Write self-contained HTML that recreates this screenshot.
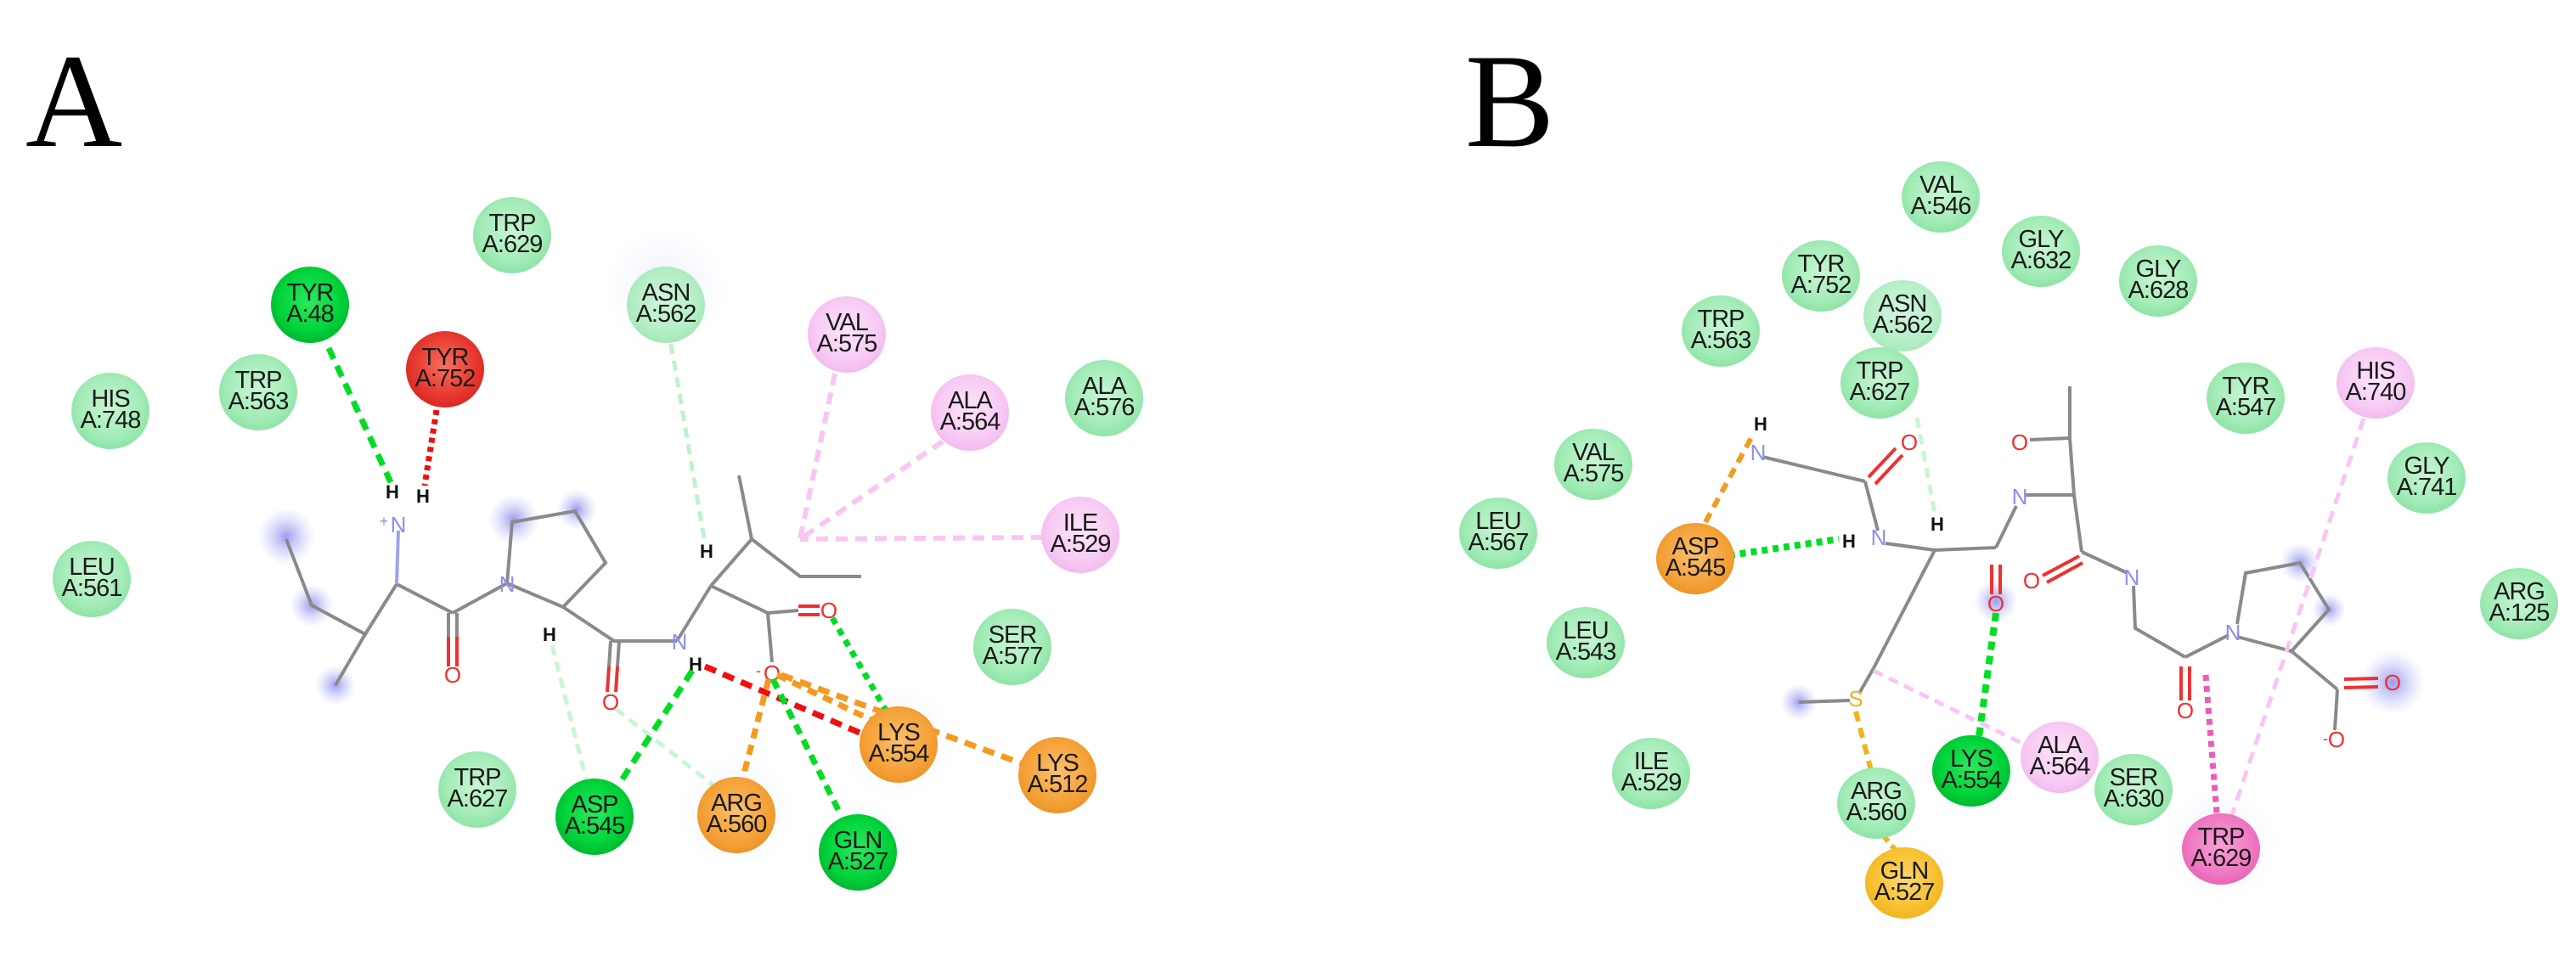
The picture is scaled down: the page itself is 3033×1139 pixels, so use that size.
<!DOCTYPE html>
<html><head><meta charset="utf-8"><style>
html,body{margin:0;padding:0;background:#fff;}
svg{display:block;}
.n text{font-family:"Liberation Sans",sans-serif;font-size:29px;fill:#1a1a1a;text-anchor:middle;letter-spacing:-1px;}
.b{stroke:#8a8a8a;stroke-width:4;fill:none;}
.at{font-family:"Liberation Sans",sans-serif;font-size:26px;text-anchor:middle;}
</style></head><body>
<svg width="3033" height="1139" viewBox="0 0 3033 1139" xmlns="http://www.w3.org/2000/svg">
<defs>
<radialGradient id="lg" cx="50%" cy="45%" r="55%"><stop offset="0" stop-color="#c8f6d4"/><stop offset="0.7" stop-color="#a4ecb8"/><stop offset="1" stop-color="#8ee4a6"/></radialGradient>
<radialGradient id="bg" cx="50%" cy="45%" r="55%"><stop offset="0" stop-color="#2ee860"/><stop offset="0.7" stop-color="#00d43a"/><stop offset="1" stop-color="#00b830"/></radialGradient>
<radialGradient id="og" cx="50%" cy="45%" r="55%"><stop offset="0" stop-color="#fbc070"/><stop offset="0.7" stop-color="#f5a33a"/><stop offset="1" stop-color="#ee9428"/></radialGradient>
<radialGradient id="pg" cx="50%" cy="45%" r="55%"><stop offset="0" stop-color="#fde4fb"/><stop offset="0.7" stop-color="#f8ccf4"/><stop offset="1" stop-color="#f2bbee"/></radialGradient>
<radialGradient id="rg" cx="50%" cy="45%" r="55%"><stop offset="0" stop-color="#f87060"/><stop offset="0.7" stop-color="#e83a30"/><stop offset="1" stop-color="#d82a22"/></radialGradient>
<radialGradient id="mg" cx="50%" cy="45%" r="55%"><stop offset="0" stop-color="#f8a0d8"/><stop offset="0.7" stop-color="#f07ac4"/><stop offset="1" stop-color="#e866b6"/></radialGradient>
<radialGradient id="yg" cx="50%" cy="45%" r="55%"><stop offset="0" stop-color="#fcd870"/><stop offset="0.7" stop-color="#f8c232"/><stop offset="1" stop-color="#f0b420"/></radialGradient>
<radialGradient id="halo"><stop offset="0" stop-color="#e8eefa"/><stop offset="1" stop-color="#f4f7fd" stop-opacity="0"/></radialGradient>
<radialGradient id="blu"><stop offset="0" stop-color="#9a9cf0"/><stop offset="1" stop-color="#c8caf8" stop-opacity="0"/></radialGradient>
</defs>

<text x="30" y="172" font-family="Liberation Serif,serif" font-size="158" fill="#000">A</text>
<text x="1725" y="172" font-family="Liberation Serif,serif" font-size="158" fill="#000">B</text>

<g fill="url(#halo)">
<circle cx="784" cy="340" r="75"/><circle cx="1058" cy="875" r="70"/><circle cx="867" cy="955" r="70"/>
<circle cx="700" cy="962" r="60"/><circle cx="1010" cy="1000" r="60"/><circle cx="365" cy="355" r="60"/>
<circle cx="2240" cy="372" r="60"/><circle cx="1996" cy="655" r="60"/><circle cx="2615" cy="995" r="70"/><circle cx="2242" cy="1040" r="60"/><circle cx="2321" cy="905" r="60"/>
</g>
<g fill="url(#blu)">
<circle cx="337" cy="632" r="34"/><circle cx="367" cy="713" r="26"/><circle cx="395" cy="807" r="24"/><circle cx="605" cy="612" r="30"/><circle cx="679" cy="600" r="24"/>
<circle cx="2118" cy="827" r="22"/><circle cx="2350" cy="708" r="26"/><circle cx="2708" cy="663" r="24"/><circle cx="2742" cy="718" r="20"/><circle cx="2817" cy="804" r="38"/>
</g>

<!-- Panel A molecule -->
<g class="b">
<polyline points="337,635 367,713 430,747 395,807"/>
<polyline points="430,747 467,688 533,722"/>
<line x1="533" y1="722" x2="597" y2="687"/>
<polyline points="597,687 603,615 677,602 713,663 663,715 597,687"/>
<polyline points="663,715 723,755 797,755"/>
<line x1="797" y1="755" x2="837" y2="690"/>
<polyline points="837,690 885,635 870,560"/>
<polyline points="885,635 942,679 1014,679"/>
<line x1="837" y1="690" x2="904" y2="722"/>
<line x1="904" y1="722" x2="940" y2="719"/>
<line x1="904" y1="722" x2="909" y2="780"/>
<line x1="467" y1="688" x2="469" y2="625" stroke="#9ea2f0"/>
<line x1="528" y1="722" x2="528" y2="750"/><line x1="538" y1="722" x2="538" y2="750"/>
<line x1="719" y1="755" x2="717" y2="785"/><line x1="729" y1="755" x2="727" y2="785"/>
</g>
<g stroke="#f03030" stroke-width="4">
<line x1="528" y1="750" x2="528" y2="785"/><line x1="538" y1="750" x2="538" y2="785"/>
<line x1="717" y1="785" x2="715" y2="815"/><line x1="727" y1="785" x2="725" y2="815"/>
<line x1="940" y1="714" x2="965" y2="714"/><line x1="940" y1="724" x2="965" y2="724"/>
</g>
<g class="at">
<text x="469" y="627" fill="#8c90f0">N</text><text x="452" y="620" fill="#8c90f0" font-size="18">+</text>
<text x="462" y="587" fill="#111" font-weight="bold" font-size="22">H</text>
<text x="498" y="592" fill="#111" font-weight="bold" font-size="22">H</text>
<text x="533" y="804" fill="#f03030">O</text>
<text x="597" y="697" fill="#8c90f0">N</text>
<text x="647" y="755" fill="#111" font-weight="bold" font-size="22">H</text>
<text x="719" y="836" fill="#f03030">O</text>
<text x="800" y="765" fill="#8c90f0">N</text>
<text x="819" y="790" fill="#111" font-weight="bold" font-size="22">H</text>
<text x="832" y="657" fill="#111" font-weight="bold" font-size="22">H</text>
<text x="976" y="728" fill="#f03030">O</text>
<text x="909" y="802" fill="#f03030">O</text><text x="893" y="796" fill="#f03030" font-size="18">-</text>
</g>

<g fill="none" stroke-linecap="butt">
<line x1="387" y1="410" x2="460" y2="568" stroke="#00dd22" stroke-width="7" stroke-dasharray="14,9"/>
<line x1="514" y1="483" x2="500" y2="572" stroke="#ee1010" stroke-width="7" stroke-dasharray="6,5"/>
<line x1="790" y1="405" x2="830" y2="640" stroke="#bff2cc" stroke-width="5" stroke-dasharray="12,8"/>
<line x1="983" y1="440" x2="942" y2="635" stroke="#f8c6f4" stroke-width="6" stroke-dasharray="14,9"/>
<line x1="1110" y1="520" x2="942" y2="635" stroke="#f8c6f4" stroke-width="6" stroke-dasharray="14,9"/>
<line x1="1228" y1="633" x2="942" y2="635" stroke="#f8c6f4" stroke-width="6" stroke-dasharray="14,9"/>
<line x1="650" y1="760" x2="690" y2="918" stroke="#c8f6d4" stroke-width="5" stroke-dasharray="12,8"/>
<line x1="725" y1="835" x2="840" y2="925" stroke="#c8f6d4" stroke-width="5" stroke-dasharray="12,8"/>
<line x1="815" y1="790" x2="728" y2="925" stroke="#00dd22" stroke-width="7" stroke-dasharray="14,9"/>
<line x1="830" y1="785" x2="1040" y2="875" stroke="#ee1010" stroke-width="7" stroke-dasharray="14,9"/>
<line x1="980" y1="728" x2="1045" y2="840" stroke="#00dd22" stroke-width="7" stroke-dasharray="8,7"/>
<line x1="905" y1="800" x2="875" y2="915" stroke="#f59a20" stroke-width="7" stroke-dasharray="12,8"/>
<line x1="910" y1="800" x2="990" y2="960" stroke="#00dd22" stroke-width="7" stroke-dasharray="12,8"/>
<line x1="915" y1="795" x2="1030" y2="850" stroke="#f59a20" stroke-width="7" stroke-dasharray="12,8"/>
<line x1="920" y1="795" x2="1205" y2="900" stroke="#f59a20" stroke-width="7" stroke-dasharray="14,9"/>
</g>

<!-- Panel B molecule -->
<g class="b">
<line x1="2075" y1="538" x2="2196" y2="567" stroke="#8a8a8a"/>
<line x1="2196" y1="567" x2="2211" y2="625"/>
<line x1="2220" y1="640" x2="2278" y2="648"/>
<polyline points="2278,648 2350,645"/>
<line x1="2350" y1="645" x2="2374" y2="596"/>
<line x1="2384" y1="583" x2="2442" y2="583"/>
<polyline points="2442,583 2437,516 2437,455"/>
<line x1="2437" y1="516" x2="2390" y2="518"/>
<line x1="2442" y1="583" x2="2451" y2="650"/>
<line x1="2451" y1="650" x2="2505" y2="675"/>
<polyline points="2512,690 2514,740 2573,774"/>
<line x1="2573" y1="774" x2="2624" y2="748"/>
<polyline points="2634,735 2644,675 2708,663 2742,718 2698,767 2634,750"/>
<line x1="2698" y1="767" x2="2752" y2="812"/>
<line x1="2752" y1="812" x2="2749" y2="860"/>
<line x1="2278" y1="648" x2="2206" y2="787"/>
<line x1="2206" y1="787" x2="2190" y2="815"/>
<line x1="2178" y1="825" x2="2118" y2="827"/>
</g>
<g stroke="#f03030" stroke-width="4">
<line x1="2200" y1="562" x2="2232" y2="528"/><line x1="2208" y1="570" x2="2240" y2="536"/>
<line x1="2345" y1="665" x2="2345" y2="700"/><line x1="2355" y1="665" x2="2355" y2="700"/>
<line x1="2448" y1="655" x2="2405" y2="678"/><line x1="2452" y1="663" x2="2410" y2="686"/>
<line x1="2568" y1="785" x2="2568" y2="825"/><line x1="2578" y1="785" x2="2578" y2="825"/>
<line x1="2760" y1="800" x2="2800" y2="799"/><line x1="2760" y1="810" x2="2800" y2="809"/>
</g>
<g class="at">
<text x="2073" y="507" fill="#111" font-weight="bold" font-size="22">H</text>
<text x="2070" y="542" fill="#8c90f0">N</text>
<text x="2248" y="530" fill="#f03030">O</text>
<text x="2212" y="642" fill="#8c90f0">N</text>
<text x="2177" y="645" fill="#111" font-weight="bold" font-size="22">H</text>
<text x="2281" y="625" fill="#111" font-weight="bold" font-size="22">H</text>
<text x="2350" y="720" fill="#f03030">O</text>
<text x="2378" y="594" fill="#8c90f0">N</text>
<text x="2378" y="530" fill="#f03030">O</text>
<text x="2392" y="693" fill="#f03030">O</text>
<text x="2510" y="689" fill="#8c90f0">N</text>
<text x="2573" y="846" fill="#f03030">O</text>
<text x="2629" y="754" fill="#8c90f0">N</text>
<text x="2817" y="813" fill="#f03030">O</text>
<text x="2751" y="880" fill="#f03030">O</text><text x="2738" y="876" fill="#f03030" font-size="18">-</text>
<text x="2185" y="832" fill="#e8b020">S</text>
</g>

<g fill="none">
<line x1="2008" y1="615" x2="2065" y2="510" stroke="#f59a20" stroke-width="6" stroke-dasharray="12,8"/>
<line x1="2010" y1="658" x2="2165" y2="635" stroke="#00dd22" stroke-width="8" stroke-dasharray="7,6"/>
<line x1="2257" y1="492" x2="2278" y2="605" stroke="#c8f6d4" stroke-width="5" stroke-dasharray="12,8"/>
<line x1="2350" y1="722" x2="2330" y2="868" stroke="#00dd22" stroke-width="8" stroke-dasharray="10,7"/>
<line x1="2206" y1="790" x2="2390" y2="880" stroke="#f8c6f4" stroke-width="5" stroke-dasharray="12,8"/>
<line x1="2185" y1="838" x2="2205" y2="915" stroke="#f0b420" stroke-width="6" stroke-dasharray="12,8"/>
<line x1="2218" y1="985" x2="2235" y2="1005" stroke="#f0b420" stroke-width="6" stroke-dasharray="8,6"/>
<line x1="2597" y1="795" x2="2610" y2="958" stroke="#ee5ab8" stroke-width="7" stroke-dasharray="7,6"/>
<line x1="2783" y1="493" x2="2628" y2="960" stroke="#f8c6f4" stroke-width="5" stroke-dasharray="14,9"/>
</g>

<g class="n">
<g><ellipse cx="603" cy="277" rx="46" ry="45" fill="url(#lg)"/><text x="603" y="272">TRP</text><text x="603" y="297">A:629</text></g>
<g><ellipse cx="365" cy="359" rx="46" ry="45" fill="url(#bg)"/><text x="365" y="354">TYR</text><text x="365" y="379">A:48</text></g>
<g><ellipse cx="524" cy="435" rx="46" ry="45" fill="url(#rg)"/><text x="524" y="430">TYR</text><text x="524" y="455">A:752</text></g>
<g><ellipse cx="130" cy="484" rx="46" ry="45" fill="url(#lg)"/><text x="130" y="479">HIS</text><text x="130" y="504">A:748</text></g>
<g><ellipse cx="304" cy="462" rx="46" ry="45" fill="url(#lg)"/><text x="304" y="457">TRP</text><text x="304" y="482">A:563</text></g>
<g><ellipse cx="108" cy="682" rx="46" ry="45" fill="url(#lg)"/><text x="108" y="677">LEU</text><text x="108" y="702">A:561</text></g>
<g><ellipse cx="784" cy="359" rx="46" ry="45" fill="url(#lg)" opacity="0.8"/><text x="784" y="354">ASN</text><text x="784" y="379">A:562</text></g>
<g><ellipse cx="997" cy="394" rx="46" ry="45" fill="url(#pg)"/><text x="997" y="389">VAL</text><text x="997" y="414">A:575</text></g>
<g><ellipse cx="1142" cy="486" rx="46" ry="45" fill="url(#pg)"/><text x="1142" y="481">ALA</text><text x="1142" y="506">A:564</text></g>
<g><ellipse cx="1300" cy="469" rx="46" ry="45" fill="url(#lg)"/><text x="1300" y="464">ALA</text><text x="1300" y="489">A:576</text></g>
<g><ellipse cx="1272" cy="630" rx="46" ry="45" fill="url(#pg)"/><text x="1272" y="625">ILE</text><text x="1272" y="650">A:529</text></g>
<g><ellipse cx="1192" cy="762" rx="46" ry="45" fill="url(#lg)"/><text x="1192" y="757">SER</text><text x="1192" y="782">A:577</text></g>
<g><ellipse cx="1058" cy="877" rx="46" ry="45" fill="url(#og)"/><text x="1058" y="872">LYS</text><text x="1058" y="897">A:554</text></g>
<g><ellipse cx="1245" cy="913" rx="46" ry="45" fill="url(#og)"/><text x="1245" y="908">LYS</text><text x="1245" y="933">A:512</text></g>
<g><ellipse cx="562" cy="930" rx="46" ry="45" fill="url(#lg)"/><text x="562" y="925">TRP</text><text x="562" y="950">A:627</text></g>
<g><ellipse cx="700" cy="962" rx="46" ry="45" fill="url(#bg)"/><text x="700" y="957">ASP</text><text x="700" y="982">A:545</text></g>
<g><ellipse cx="867" cy="960" rx="46" ry="45" fill="url(#og)"/><text x="867" y="955">ARG</text><text x="867" y="980">A:560</text></g>
<g><ellipse cx="1010" cy="1004" rx="46" ry="45" fill="url(#bg)"/><text x="1010" y="999">GLN</text><text x="1010" y="1024">A:527</text></g>
<g><ellipse cx="2285" cy="232" rx="46" ry="42" fill="url(#lg)"/><text x="2285" y="227">VAL</text><text x="2285" y="252">A:546</text></g>
<g><ellipse cx="2403" cy="296" rx="46" ry="42" fill="url(#lg)"/><text x="2403" y="291">GLY</text><text x="2403" y="316">A:632</text></g>
<g><ellipse cx="2541" cy="331" rx="46" ry="42" fill="url(#lg)"/><text x="2541" y="326">GLY</text><text x="2541" y="351">A:628</text></g>
<g><ellipse cx="2144" cy="325" rx="46" ry="42" fill="url(#lg)"/><text x="2144" y="320">TYR</text><text x="2144" y="345">A:752</text></g>
<g><ellipse cx="2240" cy="372" rx="46" ry="42" fill="url(#lg)" opacity="0.75"/><text x="2240" y="367">ASN</text><text x="2240" y="392">A:562</text></g>
<g><ellipse cx="2026" cy="390" rx="46" ry="42" fill="url(#lg)"/><text x="2026" y="385">TRP</text><text x="2026" y="410">A:563</text></g>
<g><ellipse cx="2213" cy="451" rx="46" ry="42" fill="url(#lg)"/><text x="2213" y="446">TRP</text><text x="2213" y="471">A:627</text></g>
<g><ellipse cx="2644" cy="469" rx="46" ry="42" fill="url(#lg)"/><text x="2644" y="464">TYR</text><text x="2644" y="489">A:547</text></g>
<g><ellipse cx="2797" cy="451" rx="46" ry="42" fill="url(#pg)"/><text x="2797" y="446">HIS</text><text x="2797" y="471">A:740</text></g>
<g><ellipse cx="2857" cy="563" rx="46" ry="42" fill="url(#lg)"/><text x="2857" y="558">GLY</text><text x="2857" y="583">A:741</text></g>
<g><ellipse cx="1876" cy="547" rx="46" ry="42" fill="url(#lg)"/><text x="1876" y="542">VAL</text><text x="1876" y="567">A:575</text></g>
<g><ellipse cx="1764" cy="628" rx="46" ry="42" fill="url(#lg)"/><text x="1764" y="623">LEU</text><text x="1764" y="648">A:567</text></g>
<g><ellipse cx="1996" cy="658" rx="46" ry="42" fill="url(#og)"/><text x="1996" y="653">ASP</text><text x="1996" y="678">A:545</text></g>
<g><ellipse cx="2966" cy="711" rx="46" ry="42" fill="url(#lg)"/><text x="2966" y="706">ARG</text><text x="2966" y="731">A:125</text></g>
<g><ellipse cx="1867" cy="757" rx="46" ry="42" fill="url(#lg)"/><text x="1867" y="752">LEU</text><text x="1867" y="777">A:543</text></g>
<g><ellipse cx="1944" cy="911" rx="46" ry="42" fill="url(#lg)"/><text x="1944" y="906">ILE</text><text x="1944" y="931">A:529</text></g>
<g><ellipse cx="2209" cy="946" rx="46" ry="42" fill="url(#lg)"/><text x="2209" y="941">ARG</text><text x="2209" y="966">A:560</text></g>
<g><ellipse cx="2321" cy="908" rx="46" ry="42" fill="url(#bg)"/><text x="2321" y="903">LYS</text><text x="2321" y="928">A:554</text></g>
<g><ellipse cx="2425" cy="892" rx="46" ry="42" fill="url(#pg)"/><text x="2425" y="887">ALA</text><text x="2425" y="912">A:564</text></g>
<g><ellipse cx="2512" cy="930" rx="46" ry="42" fill="url(#lg)"/><text x="2512" y="925">SER</text><text x="2512" y="950">A:630</text></g>
<g><ellipse cx="2615" cy="1000" rx="46" ry="42" fill="url(#mg)"/><text x="2615" y="995">TRP</text><text x="2615" y="1020">A:629</text></g>
<g><ellipse cx="2242" cy="1040" rx="46" ry="42" fill="url(#yg)"/><text x="2242" y="1035">GLN</text><text x="2242" y="1060">A:527</text></g>
</g>
</svg>
</body></html>
